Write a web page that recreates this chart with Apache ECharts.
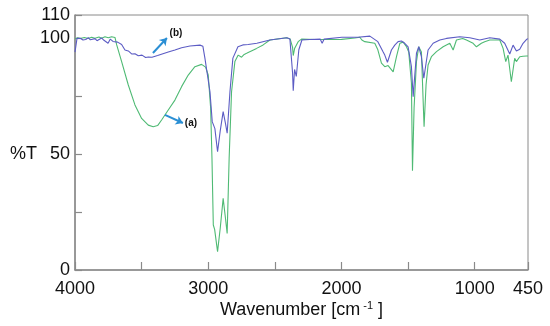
<!DOCTYPE html>
<html>
<head>
<meta charset="utf-8">
<script src="https://cdn.jsdelivr.net/npm/echarts@6/dist/echarts.min.js"></script>
<style>
html,body{margin:0;padding:0;background:#fff;}
#chart{width:550px;height:326px;}
</style>
</head>
<body>
<div id="chart"></div>
<script>
// Spectrum (a) - green
const waveA = [4000,3980,3960,3930,3900,3875,3850,3820,3800,3775,3750,3725,3700,3687,3650,3600,3550,3500,3450,3413,3380,3350,3300,3250,3200,3150,3100,3050,3040,3020,3000,2982,2972,2962,2958,2952,2930,2910,2888,2870,2858,2843,2825,2800,2775,2750,2730,2712,2637,2588,2537,2412,2385,2367,2362,2352,2340,2325,2300,2200,2150,2145,2140,2000,1900,1862,1847,1825,1750,1727,1700,1675,1650,1637,1612,1587,1562,1537,1512,1495,1475,1467,1455,1437,1420,1400,1380,1365,1350,1325,1287,1237,1187,1162,1137,1090,1062,1012,987,950,925,887,812,787,767,750,725,700,687,662,637,612,600];
const transA = [99.8,100.2,99.9,100.3,99.9,100.4,100.0,100.5,100.0,100.6,100.2,100.6,100.3,97.1,89.9,79.8,71.2,65.4,62.5,61.8,62.3,64.7,69.0,73.3,79.1,84.1,87.7,88.7,88.8,87.5,84.1,69.9,48.3,19.4,19.8,17.5,7.9,18.0,30.9,22.0,15.8,48.3,76.9,89.9,92.7,91.8,93.0,93.5,95.6,97.1,99.2,100.2,99.6,96.0,92.5,95.5,94.8,98.5,99.6,99.4,99.4,98.8,99.4,99.5,100.1,100.4,99.2,98.5,97.8,95.0,89.2,87.7,88.2,88.4,85.5,92.0,97.8,98.3,96.3,94.0,80.7,42.8,70.0,90.0,96.3,94.0,61.8,80.0,88.4,92.0,94.2,96.3,97.8,94.9,99.2,99.9,99.2,97.8,96.3,97.8,98.5,99.2,99.2,95.6,89.9,92.7,81.2,91.3,89.9,92.0,92.2,92.3,92.3];

// Spectrum (b) - purple
const waveB = [4000,3985,3960,3940,3920,3900,3885,3870,3850,3835,3820,3800,3785,3770,3752,3735,3715,3700,3680,3665,3650,3625,3600,3575,3550,3525,3497,3470,3450,3422,3380,3300,3250,3200,3137,3062,3040,3025,2987,2970,2960,2950,2930,2910,2888,2870,2858,2837,2815,2777,2740,2700,2635,2537,2410,2387,2367,2362,2352,2339,2320,2297,2237,2160,2145,2130,1997,1877,1862,1787,1727,1687,1675,1655,1625,1600,1575,1550,1525,1500,1475,1462,1437,1420,1400,1382,1350,1312,1262,1212,1200,1112,1037,962,887,812,775,737,712,687,662,637,612,600];
const transB = [94.0,99.9,100.0,99.2,99.4,100.2,99.3,99.0,99.8,98.9,99.3,100.1,99.2,98.8,97.8,99.6,98.6,99.0,98.3,97.5,97.3,94.9,94.5,93.2,93.3,92.4,92.7,91.7,91.9,91.8,92.5,94.0,94.9,95.9,96.6,97.0,96.5,91.4,76.9,64.0,62.5,61.0,51.0,60.0,68.3,63.0,59.0,76.9,91.4,96.3,97.1,97.3,97.8,99.2,100.2,99.6,85.0,77.3,86.5,83.5,95.0,99.2,99.4,99.6,97.8,99.6,100.4,100.4,100.9,100.9,98.5,94.0,92.7,89.6,94.9,97.0,98.5,98.8,97.8,96.3,87.7,74.8,93.5,96.3,92.0,82.7,94.9,97.8,99.2,99.9,100.4,100.6,100.2,99.2,100.2,99.6,97.8,93.2,97.0,94.5,95.2,97.8,99.4,99.8];

const xTickValues = [4000,3500,3000,2500,2000,1500,1000,600];
const xLabelValues = [4000,3000,2000,1000,600];
const xEdgeValue = 600;
const xEdgeLabel = '450';
const yLabels = [0,50,100,110];
const labelB = {text:'(b)', at:[3242,102.2], arrowFrom:[3415,93.6], arrowTo:[3310,100.1]};
const labelA = {text:'(a)', at:[3130,63.3], arrowFrom:[3325,66.9], arrowTo:[3190,63.4]};

const pairs = (xs, ys) => xs.map((x,i)=>[x, ys[i]]);
const font = 'Liberation Sans, Arial, sans-serif';
const arrowColor = '#2b8fd4';

function annot(l){
  return {
    markLine: {
      silent: true,
      symbol: ['none','arrow'],
      symbolSize: 7,
      lineStyle: {color: arrowColor, width: 2, type: 'solid'},
      label: {show: false},
      data: [[{coord: l.arrowFrom}, {coord: l.arrowTo}]]
    },
    markPoint: {
      silent: true,
      symbol: 'circle',
      symbolSize: 0,
      label: {show: true, position: 'inside', formatter: l.text, color: '#111', fontWeight: 'bold', fontSize: 10, fontFamily: font},
      data: [{coord: l.at}]
    }
  };
}

const chart = echarts.init(document.getElementById('chart'), null, {renderer: 'canvas'});
chart.setOption({
  animation: false,
  backgroundColor: '#fff',
  grid: {left: 75, right: 22, top: 15, bottom: 56, show: true, borderColor: '#8a8a8a', borderWidth: 1, backgroundColor: 'transparent'},
  xAxis: {
    type: 'value', inverse: true, min: 600, max: 4000,
    name: '{a|Wavenumber [cm}{s| -1}{a| ]}',
    nameLocation: 'middle', nameGap: 30, nameMoveOverlap: false,
    nameTextStyle: {rich: {
      a: {fontSize: 18, fontFamily: font, color: '#111', lineHeight: 20},
      s: {fontSize: 11, fontFamily: font, color: '#111', verticalAlign: 'top', lineHeight: 12}
    }},
    axisLine: {show: true, lineStyle: {color: '#8a8a8a', width: 1.5}},
    axisTick: {show: true, inside: true, length: 8, customValues: xTickValues, lineStyle: {color: '#8a8a8a', width: 1.2}},
    splitLine: {show: false},
    axisLabel: {
      fontSize: 18, fontFamily: font, color: '#111', margin: 10,
      customValues: xLabelValues,
      showMinLabel: true, showMaxLabel: true,
      formatter: v => (v === xEdgeValue ? xEdgeLabel : String(v))
    }
  },
  yAxis: {
    type: 'value', min: 0, max: 110, interval: 25,
    name: '{t|%T}', nameLocation: 'middle', nameGap: 38, nameRotate: 0, nameMoveOverlap: false,
    nameTextStyle: {rich: {t: {fontSize: 18, fontFamily: font, color: '#111', padding: [24,0,0,0]}}},
    axisLine: {show: true, lineStyle: {color: '#8a8a8a', width: 1.5}},
    axisTick: {show: true, inside: true, length: 7, lineStyle: {color: '#8a8a8a', width: 1.2}},
    splitLine: {show: false},
    axisLabel: {
      fontSize: 18, fontFamily: font, color: '#111', margin: 5,
      showMinLabel: true, showMaxLabel: true,
      formatter: v => (yLabels.indexOf(v) >= 0 ? String(v) : '')
    }
  },
  series: [
    Object.assign({
      name: '(a)', type: 'line', data: pairs(waveA, transA), showSymbol: false, symbol: 'none',
      lineStyle: {color: '#4fba74', width: 1.1}, smooth: false, z: 2
    }, annot(labelA)),
    Object.assign({
      name: '(b)', type: 'line', data: pairs(waveB, transB), showSymbol: false, symbol: 'none',
      lineStyle: {color: '#5c5cc4', width: 1.1}, smooth: false, z: 3
    }, annot(labelB))
  ]
});
</script>
</body>
</html>
